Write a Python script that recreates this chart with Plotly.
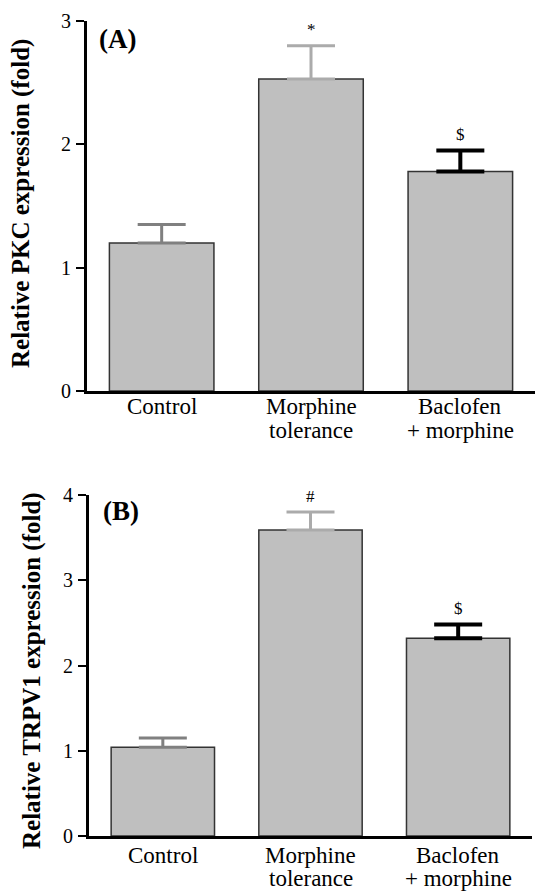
import plotly.graph_objects as go

categories = ["Control", "Morphine tolerance", "Baclofen + morphine"]
label_line1 = ["Control", "Morphine", "Baclofen"]
label_line2 = ["", "tolerance", "+ morphine"]

pkc_mean = [1.20, 2.53, 1.78]
pkc_err = [0.15, 0.27, 0.17]
pkc_marks = ["", "*", "$"]

trpv1_mean = [1.04, 3.59, 2.32]
trpv1_err = [0.11, 0.21, 0.16]
trpv1_marks = ["", "#", "$"]

yticks_a = [0, 1, 2, 3]
yticks_b = [0, 1, 2, 3, 4]

err_colors = ["#808080", "#ababab", "#000000"]
err_thick = [3, 3, 4]

FONT = "Liberation Serif"
W, H = 535, 891

fig = go.Figure()

def add_panel(means, errs, marks, xa, ya):
    for i, cat in enumerate(categories):
        fig.add_trace(go.Bar(
            x=[cat], y=[means[i]], width=0.7,
            marker=dict(color="#bfbfbf", line=dict(color="#333333", width=1.5)),
            error_y=dict(type="data", symmetric=False, array=[errs[i]], arrayminus=[0],
                         color=err_colors[i], thickness=err_thick[i], width=24),
            xaxis=xa, yaxis=ya, showlegend=False,
        ))
        if marks[i]:
            fig.add_annotation(x=cat, y=means[i] + errs[i], xref=xa, yref=ya,
                               text=marks[i], showarrow=False, xanchor="center",
                               yanchor="middle", yshift=16,
                               font=dict(family=FONT, size=17, color="black"))

add_panel(pkc_mean, pkc_err, pkc_marks, "x", "y")
add_panel(trpv1_mean, trpv1_err, trpv1_marks, "x2", "y2")

axis_common = dict(showline=True, linecolor="black", linewidth=3, showgrid=False,
                   zeroline=False, automargin=False)

fig.update_layout(
    template="none",
    width=W, height=H, margin=dict(l=0, r=0, t=0, b=0, pad=0),
    paper_bgcolor="white", plot_bgcolor="white", barmode="overlay", showlegend=False,
    font=dict(family=FONT, color="black"),
    xaxis=dict(domain=[87 / W, 1.0], range=[-0.5, 2.5], showticklabels=False, ticks="",
               categoryorder="array", categoryarray=categories, anchor="y", **axis_common),
    yaxis=dict(domain=[(H - 391) / H, (H - 21) / H], range=[0, 3], tickvals=yticks_a,
               ticks="outside", ticklen=8, tickwidth=2, tickcolor="black",
               ticklabelstandoff=1, tickfont=dict(family=FONT, size=20, color="black"),
               anchor="x", **axis_common),
    xaxis2=dict(domain=[89 / W, 532 / W], range=[-0.5, 2.5], showticklabels=False, ticks="",
                categoryorder="array", categoryarray=categories, anchor="y2", **axis_common),
    yaxis2=dict(domain=[(H - 836) / H, (H - 495) / H], range=[0, 4], tickvals=yticks_b,
                ticks="outside", ticklen=8, tickwidth=2, tickcolor="black",
                ticklabelstandoff=1, tickfont=dict(family=FONT, size=20, color="black"),
                anchor="x2", **axis_common),
)

# category labels (two lines, tight spacing)
for xa, ya, s1, s2 in [("x", "y", -15, -39), ("x2", "y2", -19, -42)]:
    for i, cat in enumerate(categories):
        fig.add_annotation(x=cat, y=0, xref=xa, yref=ya + " domain", text=label_line1[i],
                           showarrow=False, xanchor="center", yanchor="middle", yshift=s1,
                           font=dict(family=FONT, size=23, color="black"))
        if label_line2[i]:
            fig.add_annotation(x=cat, y=0, xref=xa, yref=ya + " domain", text=label_line2[i],
                               showarrow=False, xanchor="center", yanchor="middle", yshift=s2,
                               font=dict(family=FONT, size=23, color="black"))

# y-axis titles
fig.add_annotation(x=21 / W, y=(H - 204) / H, xref="paper", yref="paper",
                   xanchor="center", yanchor="middle",
                   text="<b>Relative PKC expression (fold)</b>", textangle=-90, showarrow=False,
                   font=dict(family=FONT, size=25, color="black"))
fig.add_annotation(x=32 / W, y=(H - 671) / H, xref="paper", yref="paper",
                   xanchor="center", yanchor="middle",
                   text="<b>Relative TRPV1 expression (fold)</b>", textangle=-90, showarrow=False,
                   font=dict(family=FONT, size=25, color="black"))

# panel labels
fig.add_annotation(x=117 / W, y=(H - 39) / H, xref="paper", yref="paper", text="<b>(A)</b>",
                   xanchor="center", yanchor="middle",
                   showarrow=False, font=dict(family=FONT, size=27, color="black"))
fig.add_annotation(x=121 / W, y=(H - 511) / H, xref="paper", yref="paper", text="<b>(B)</b>",
                   xanchor="center", yanchor="middle",
                   showarrow=False, font=dict(family=FONT, size=27, color="black"))

fig.write_html("out.html", config={"displayModeBar": False},
               post_script="document.body.style.margin='0px';")
